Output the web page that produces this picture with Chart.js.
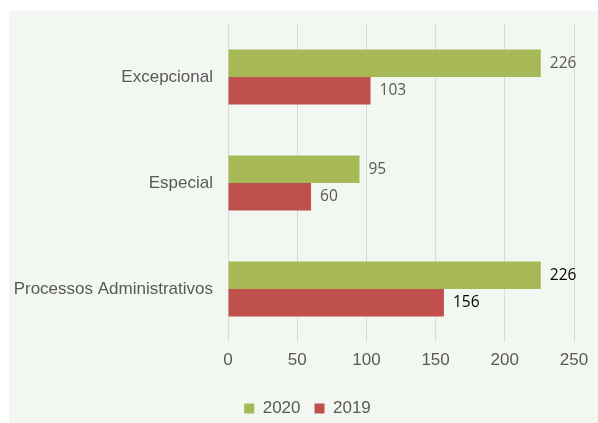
<!DOCTYPE html>
<html>
<head>
<meta charset="utf-8">
<script src="https://cdn.jsdelivr.net/npm/chart.js@4"></script>
<style>
  html, body { margin: 0; padding: 0; background: #fff; }
  #wrap { width: 598px; height: 423px; }
</style>
</head>
<body>
<div id="wrap"><canvas id="processosChart" width="598" height="423"></canvas></div>
<script>
// data
const categories = ['Excepcional', 'Especial', 'Processos Administrativos'];
const values2020 = [226, 95, 226];
const values2019 = [103, 60, 156];
const xTicks = [0, 50, 100, 150, 200, 250];

const sans = "'Liberation Sans', Arial, sans-serif";

// panel background
const panelBg = {
  id: 'panelBg',
  beforeDraw(chart) {
    const ctx = chart.ctx;
    ctx.save();
    ctx.fillStyle = '#ffffff';
    ctx.fillRect(0, 0, chart.width, chart.height);
    ctx.fillStyle = '#f3f7f1';
    ctx.fillRect(9, 11, chart.width - 9, chart.height - 11);
    ctx.restore();
  },
  // nudge legend to sit under the plot like the original
  afterLayout(chart) {
    const lg = chart.legend;
    lg.left += 16;
    lg.right += 16;
    lg.top += 4;
    lg.bottom += 4;
  }
};

// value labels at bar ends
const barLabels = {
  id: 'barLabels',
  afterDatasetsDraw(chart) {
    const ctx = chart.ctx;
    ctx.save();
    ctx.textBaseline = 'middle';
    ctx.textAlign = 'left';
    ctx.font = "15.5px 'Open Sans', sans-serif";
    chart.data.datasets.forEach((ds, i) => {
      chart.getDatasetMeta(i).data.forEach((bar, j) => {
        ctx.fillStyle = j === 2 ? '#000000' : '#595959';
        ctx.fillText(ds.data[j], bar.x + 9, bar.y);
      });
    });
    ctx.restore();
  }
};

const ctx = document.getElementById('processosChart').getContext('2d');
const processosChart = new Chart(ctx, {
  type: 'bar',
  data: {
    labels: categories,
    datasets: [{
      label: '2020',
      data: values2020,
      backgroundColor: '#a7b957',
    }, {
      label: '2019',
      data: values2019,
      backgroundColor: '#c0504d',
    }]
  },
  options: {
    indexAxis: 'y',
    responsive: false,
    animation: false,
    categoryPercentage: 0.52,
    barPercentage: 1,
    layout: { padding: { left: 9, right: 24, top: 24, bottom: 0 } },
    scales: {
      x: {
        min: 0,
        max: 250,
        afterBuildTicks: (axis) => { axis.ticks = xTicks.map(v => ({ value: v })); },
        afterFit: (axis) => { axis.height = 40; },
        grid: { color: '#d9dcd6', drawTicks: false },
        border: { display: false },
        ticks: { color: '#595959', padding: 8, font: { family: sans, size: 17 } }
      },
      y: {
        afterFit: (axis) => { axis.width = 219; },
        grid: { display: false },
        border: { display: false },
        ticks: { color: '#595959', padding: 7, font: { family: sans, size: 17 } }
      }
    },
    plugins: {
      tooltip: { enabled: false },
      legend: {
        position: 'bottom',
        labels: {
          boxWidth: 10,
          boxHeight: 10,
          padding: 14,
          color: '#595959',
          font: { family: sans, size: 17 }
        }
      }
    }
  },
  plugins: [panelBg, barLabels]
});
</script>
</body>
</html>
